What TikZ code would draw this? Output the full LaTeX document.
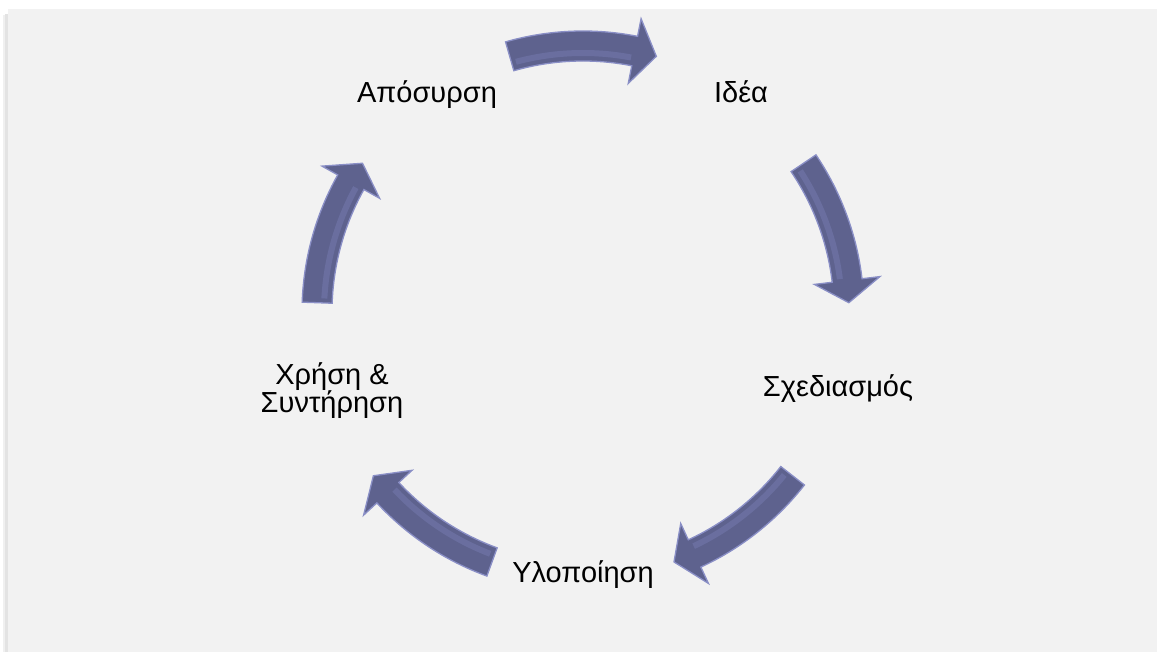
\documentclass[tikz,border=0pt]{standalone}
\usepackage{fontspec}
\setmainfont{Liberation Sans}
\definecolor{panelgray}{RGB}{242,242,242}
\definecolor{arrowfill}{RGB}{94,98,142}
\definecolor{arrowedge}{RGB}{138,143,198}
\definecolor{arrowlight}{RGB}{118,123,176}
\newcommand{\cyclearrow}[1]{%
  % #1 = centre angle (math, y up); arrow runs clockwise
  \pgfmathsetmacro{\aone}{#1+16}
  \pgfmathsetmacro{\atwo}{#1-16}
  \pgfmathsetmacro{\ahead}{#1-16+4.8}
  \fill[arrowfill,draw=arrowedge,line width=1.3pt,line join=miter]
    (\aone:281) arc[start angle=\aone,end angle=\ahead,radius=281]
    -- (\ahead:299) -- (\atwo:266) -- (\ahead:233) -- (\ahead:251)
    arc[start angle=\ahead,end angle=\aone,radius=251] -- cycle;
  \draw[arrowlight,line width=6pt,opacity=0.5]
    (\aone-1:259) arc[start angle=\aone-1,end angle=\ahead+0.5,radius=259];
}
\begin{document}
\begin{tikzpicture}[x=1pt,y=1pt,
  lbl/.style={font=\fontsize{29}{28}\selectfont,inner sep=0pt,text=black}]
\useasboundingbox (0,0) rectangle (1157,652);
\fill[white] (0,0) rectangle (1157,652);
\fill[gray!22] (4.5,0) rectangle (8,638);
\fill[gray!12] (3,0) rectangle (4.5,637);
\fill[panelgray] (8,0) rectangle (1157,643);
\begin{scope}[shift={(583,340)}]
  \cyclearrow{90}
  \cyclearrow{18}
  \cyclearrow{-54}
  \cyclearrow{-126}
  \cyclearrow{162}
\end{scope}
\node[lbl,anchor=base] (aposyrsi) at (427,549) {Απόσυρση};
\node[lbl,anchor=base] (idea) at (741,549) {Ιδέα};
\node[lbl,anchor=base] (sxediasmos) at (838,255) {Σχεδιασμός};
\node[lbl,anchor=base] (ylopoiisi) at (583,69) {Υλοποίηση};
\node[lbl,anchor=base,align=center] (xrisi) at (332,239) {Χρήση \&\\Συντήρηση};
\end{tikzpicture}
\end{document}
